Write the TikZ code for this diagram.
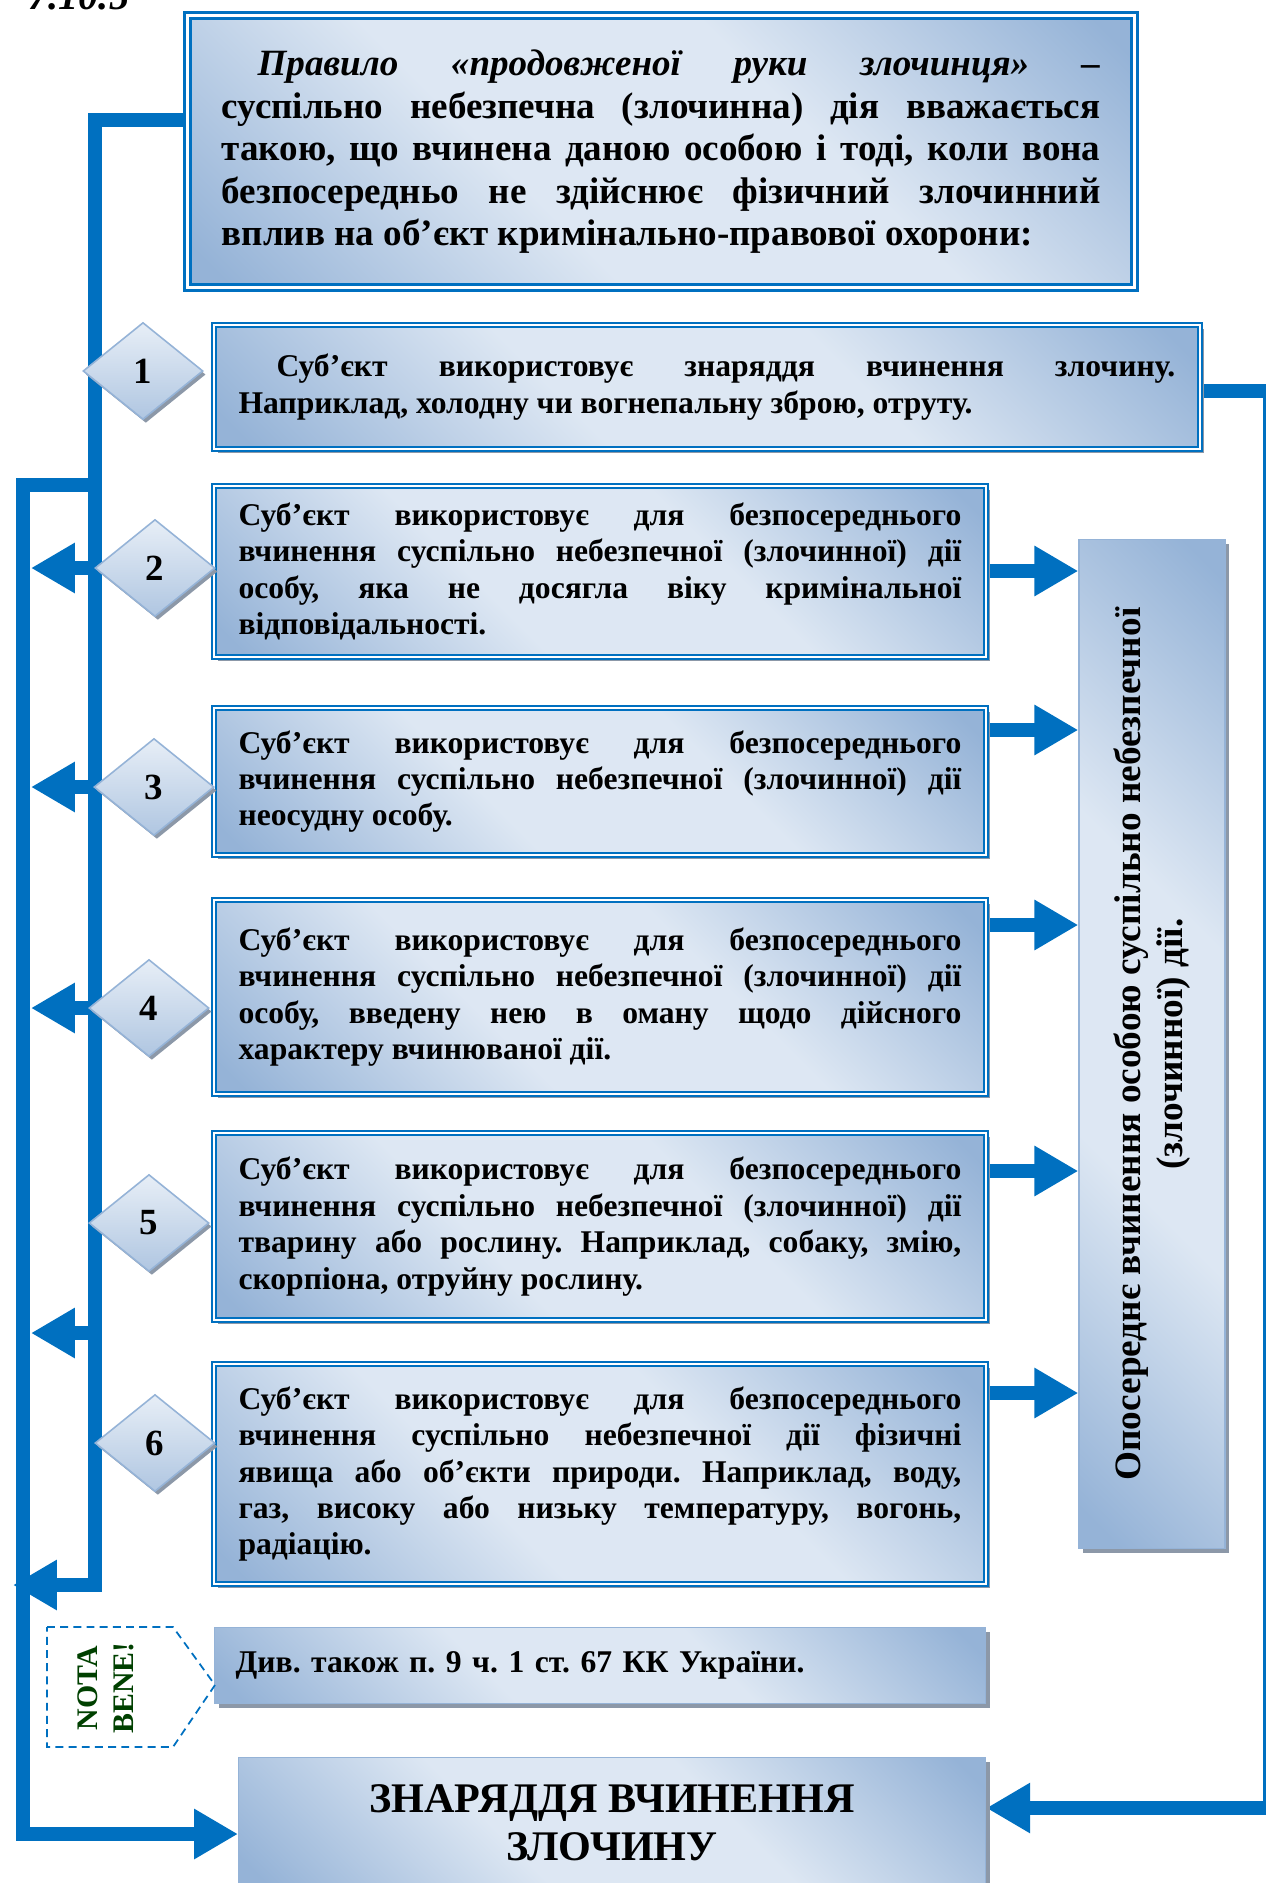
\documentclass[tikz,border=0pt]{standalone}
\usepackage{fontspec}
\setmainfont{Liberation Serif}
\usepackage{xcolor}
\usepackage{tikz}
\usetikzlibrary{arrows.meta,shapes.geometric,positioning,shadows,calc,backgrounds}
\definecolor{SchBlue}{RGB}{0,112,192}
\definecolor{SchLight}{RGB}{221,231,243}
\definecolor{SchDark}{RGB}{149,179,215}
\definecolor{SchShadow}{RGB}{140,152,168}
\definecolor{SchGreen}{RGB}{0,64,0}
\pgfdeclarehorizontalshading{boxfill}{100bp}{color(0bp)=(SchDark); color(17bp)=(SchDark); color(40bp)=(SchLight); color(60bp)=(SchLight); color(83bp)=(SchDark); color(100bp)=(SchDark)}
\hyphenpenalty=10000
\exhyphenpenalty=10000
\frenchspacing
\tikzset{
  shaded/.style={shade,shading=boxfill,shading angle=45,
    drop shadow={shadow xshift=2.4pt,shadow yshift=-2.4pt,fill=SchShadow,opacity=1}},
  rulebox/.style={shaded,draw=SchBlue,line width=1.9pt,double=white,double distance=1.5pt,
    anchor=north west,align=justify,font=\bfseries\fontsize{21.1}{24.2}\selectfont},
  casebox/.style={shaded,draw=SchBlue,line width=1.2pt,double=white,double distance=1pt,
    anchor=north west,text width=14.46cm,minimum width=15.44cm,align=justify,
    font=\bfseries\fontsize{18}{20.7}\selectfont},
  plainbox/.style={shaded,draw=SchDark,line width=0.8pt,font=\bfseries\fontsize{18}{20.7}\selectfont},
  numdiam/.style={diamond,draw=SchDark,line width=0.9pt,top color=SchLight!70!white,bottom color=SchDark!75!white,
    minimum width=2.4cm,minimum height=1.94cm,inner sep=0pt,
    drop shadow={shadow xshift=1.6pt,shadow yshift=-2pt,fill=SchShadow,opacity=1},
    font=\bfseries\fontsize{21}{24}\selectfont},
  bus/.style={draw=SchBlue,line width=8.5pt},
  busarrow/.style={bus,-{Triangle[length=25pt,width=27pt]}}
}
\begin{document}
\begin{tikzpicture}[x=0.02cm,y=-0.02cm]
  \useasboundingbox (0,0) rectangle (1266,1883);
  \node[anchor=base west,font=\bfseries\itshape\fontsize{23}{26}\selectfont] (num) at (22,9) {7.10.5};
  \node[rulebox,text width=17.58cm,minimum width=18.94cm,minimum height=5.44cm] (rule) at (186,14)
    {\hspace*{0.72cm}\textit{Правило «продовженої руки злочинця»} –\linebreak
     суспільно небезпечна (злочинна) дія вважається\linebreak
     такою, що вчинена даною особою і тоді, коли вона\linebreak
     безпосередньо не здійснює фізичний злочинний\linebreak
     вплив на об’єкт кримінально-правової охорони:};
  \node[casebox,text width=18.74cm,minimum width=19.72cm,minimum height=2.48cm] (b1) at (213,324)
    {\hspace*{0.76cm}Суб’єкт використовує знаряддя вчинення злочину.\linebreak
     Наприклад, холодну чи вогнепальну зброю, отруту.};
  \node[casebox,minimum height=3.42cm] (b2) at (213,485)
    {Суб’єкт використовує для безпосереднього\linebreak
     вчинення суспільно небезпечної (злочинної) дії\linebreak
     особу, яка не досягла віку кримінальної\linebreak
     відповідальності.};
  \node[casebox,minimum height=2.94cm] (b3) at (213,707)
    {Суб’єкт використовує для безпосереднього\linebreak
     вчинення суспільно небезпечної (злочинної) дії\linebreak
     неосудну особу.};
  \node[casebox,minimum height=3.88cm] (b4) at (213,899)
    {Суб’єкт використовує для безпосереднього\linebreak
     вчинення суспільно небезпечної (злочинної) дії\linebreak
     особу, введену нею в оману щодо дійсного\linebreak
     характеру вчинюваної дії.};
  \node[casebox,minimum height=3.74cm] (b5) at (213,1132)
    {Суб’єкт використовує для безпосереднього\linebreak
     вчинення суспільно небезпечної (злочинної) дії\linebreak
     тварину або рослину. Наприклад, собаку, змію,\linebreak
     скорпіона, отруйну рослину.};
  \node[casebox,minimum height=4.4cm] (b6) at (213,1363)
    {Суб’єкт використовує для безпосереднього\linebreak
     вчинення суспільно небезпечної дії фізичні\linebreak
     явища або об’єкти природи. Наприклад, воду,\linebreak
     газ, високу або низьку температуру, вогонь,\linebreak
     радіацію.};
  \node[plainbox,anchor=north west,text width=14.58cm,minimum width=15.42cm,minimum height=1.52cm,align=left] (see) at (214,1627)
    {Див. також п. 9 ч. 1 ст. 67 КК України.};
  \node[plainbox,anchor=north west,minimum width=14.94cm,minimum height=2.6cm,align=center,
    font=\bfseries\fontsize{24}{27.5}\selectfont] (tool) at (238,1757)
    {ЗНАРЯДДЯ ВЧИНЕННЯ\\ЗЛОЧИНУ};
  \node[plainbox,rotate=90,minimum width=20.18cm,minimum height=2.92cm,align=center,
    font=\bfseries\fontsize{21.2}{24.2}\selectfont] (vert) at (1152,1044)
    {Опосереднє вчинення особою суспільно небезпечної\\(злочинної) дії.};
  \node[numdiam] (d1) at (143,371) {1};
  \node[numdiam] (d2) at (155,568) {2};
  \node[numdiam] (d3) at (154,787) {3};
  \node[numdiam] (d4) at (149,1008) {4};
  \node[numdiam] (d5) at (149,1223) {5};
  \node[numdiam] (d6) at (155,1443) {6};
  \draw[SchBlue,line width=1pt,dash pattern=on 4.5pt off 3pt]
    (47,1627) -- (173,1627) -- (215,1685) -- (173,1747) -- (47,1747) -- cycle;
  \node[rotate=90,align=center,text=SchGreen,font=\bfseries\fontsize{17}{20.5}\selectfont] (nota) at (106,1688)
    {NOTA\\BENE!};
  \coordinate (jA) at (95,120);
  \coordinate (jB) at (95,485);
  \coordinate (jC) at (23,485);
  \coordinate (jCe) at (31,485);
  \coordinate (jD) at (95,1585);
  \coordinate (jE) at (13,1585);
  \coordinate (jF) at (23,1834);
  \coordinate (jG) at (1270,391);
  \coordinate (jH) at (1270,1808);
  \coordinate (jK) at (60,1333);
  \begin{scope}[on background layer]
    \draw[busarrow] (rule.west |- jA) -- (jA) -- (jD) -- (jE);
    \draw[busarrow] (jB) -- (jC) -- (jF) -- (tool.west |- jF);
    \draw[busarrow] (b1.east |- jG) -- (jG) -- (jH) -- (tool.east |- jH);
    \foreach \d in {d2,d3,d4,jK}
      \draw[busarrow] (jA |- \d) -- (jCe |- \d);
    \foreach \b/\dy in {b2/86,b3/23,b4/26,b5/39,b6/30}
      \draw[busarrow] ($(\b.north east)+(0,\dy)$) coordinate (rt) -- (rt -| vert.north);
  \end{scope}
\end{tikzpicture}
\end{document}
